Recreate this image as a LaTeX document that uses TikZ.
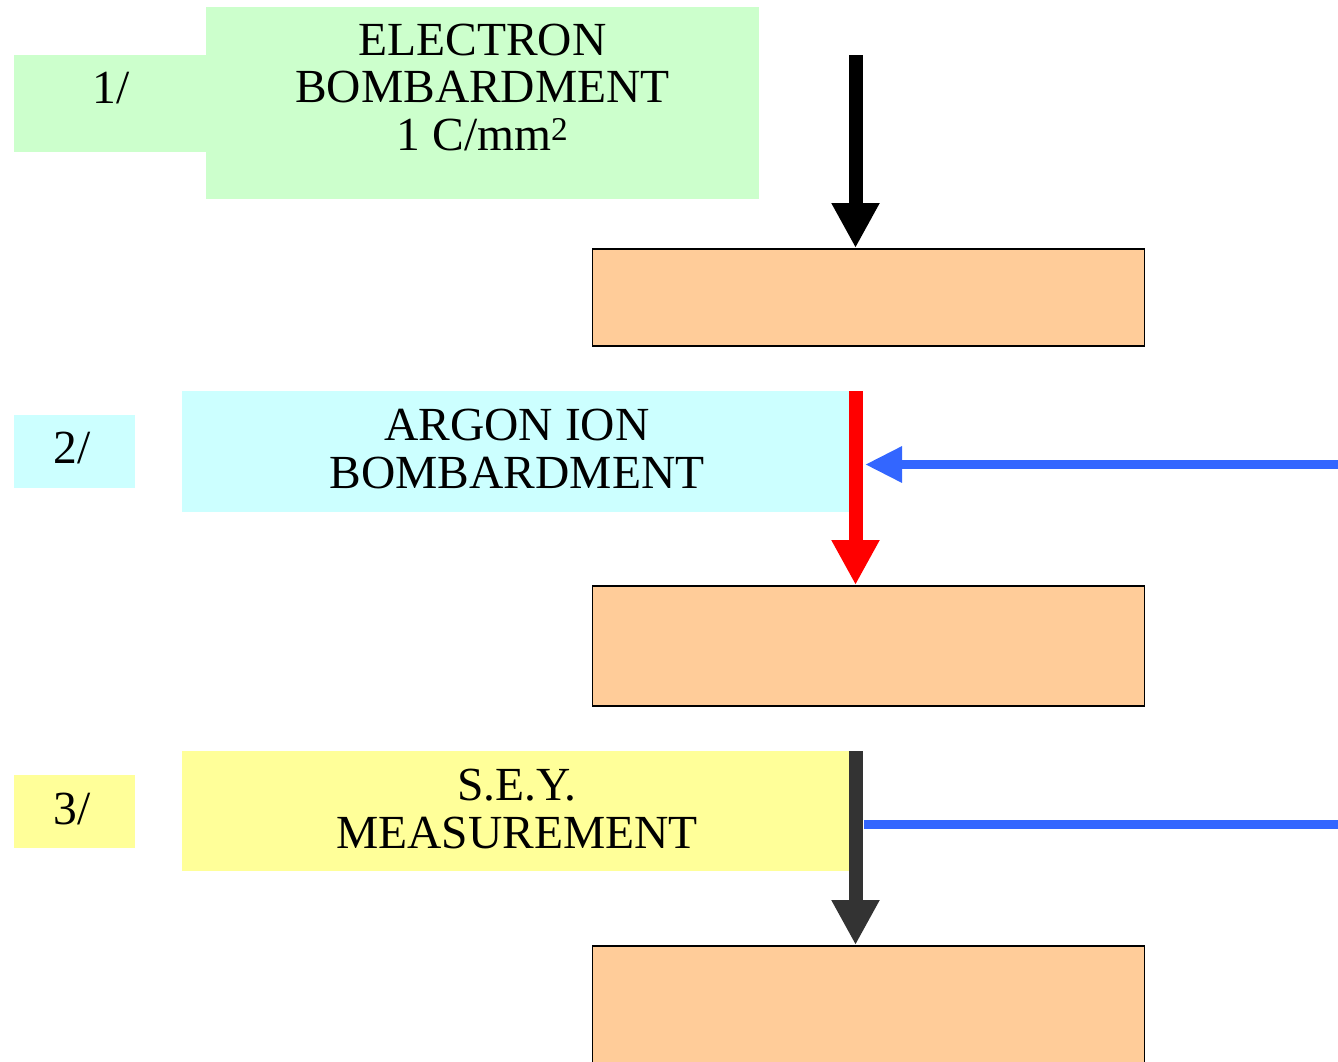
\documentclass[tikz,border=0pt]{standalone}
\usepackage{fontspec}
\setmainfont{Liberation Serif}
\usetikzlibrary{arrows.meta}
\definecolor{cgreen}{HTML}{CCFFCC}
\definecolor{ccyan}{HTML}{CCFFFF}
\definecolor{cyellow}{HTML}{FFFF99}
\definecolor{corange}{HTML}{FFCC99}
\definecolor{cblue}{HTML}{3366FF}
\definecolor{cdark}{HTML}{333333}
\tikzset{
  panel/.style={fill=#1, draw=none, inner sep=0pt, anchor=north west},
  target/.style={fill=corange, draw=black, line width=1.5pt, inner sep=0pt, anchor=north west},
  lbl/.style={inner sep=0pt, anchor=base, align=center, font=\fontsize{47.5}{47.5}\selectfont},
  beam/.style={line width=14pt, -{Triangle[width=45pt,length=45pt]}},
  ionbeam/.style={line width=9pt, cblue, -{Triangle[width=34pt,length=37pt]}},
}
\begin{document}
\begin{tikzpicture}[x=1pt,y=-1pt]
\useasboundingbox (0,0) rectangle (1338,1061);
% stage 1
\node[panel=cgreen, minimum width=192pt, minimum height=97pt] (g1) at (14,55) {};
\node[panel=cgreen, minimum width=553pt, minimum height=192pt] (g2) at (206,7) {};
\node[lbl] (t1) at (111,103) {1/};
\node[lbl] (t2) at (482.5,150) {ELECTRON\\BOMBARDMENT\\1 C/mm\textsuperscript{2}};
\node[target, minimum width=552pt, minimum height=97pt] (o1) at (591.5,248) {};
\coordinate (s1) at (855.5,55);
\draw[beam, black] (s1) -- (s1 |- o1.north);
% stage 2
\node[panel=ccyan, minimum width=121pt, minimum height=73pt] (c1) at (14,415) {};
\node[panel=ccyan, minimum width=667pt, minimum height=121pt] (c2) at (182,391) {};
\node[lbl] (t3) at (72,463) {2/};
\node[lbl] (t4) at (517,488) {ARGON ION\\BOMBARDMENT};
\node[target, minimum width=552pt, minimum height=120pt] (o2) at (591.5,585) {};
\coordinate (s2) at (855.5,391);
\draw[beam, red] (s2) -- (s2 |- o2.north);
\coordinate (b2s) at (1338,464.5);
\coordinate (b2e) at (865,464.5);
\draw[ionbeam] (b2s) -- (b2e);
% stage 3
\node[panel=cyellow, minimum width=121pt, minimum height=73pt] (y1) at (14,775) {};
\node[panel=cyellow, minimum width=667pt, minimum height=120pt] (y2) at (182,751) {};
\node[lbl] (t5) at (72,824) {3/};
\node[lbl] (t6) at (517,848) {S.E.Y.\\MEASUREMENT};
\node[target, minimum width=552pt, minimum height=140pt] (o3) at (591.5,945) {};
\coordinate (s3) at (855.5,751);
\draw[beam, cdark] (s3) -- (s3 |- o3.north);
\coordinate (b3s) at (1338,824.5);
\coordinate (b3e) at (864,824.5);
\draw[line width=9pt, cblue] (b3s) -- (b3e);
\end{tikzpicture}
\end{document}
